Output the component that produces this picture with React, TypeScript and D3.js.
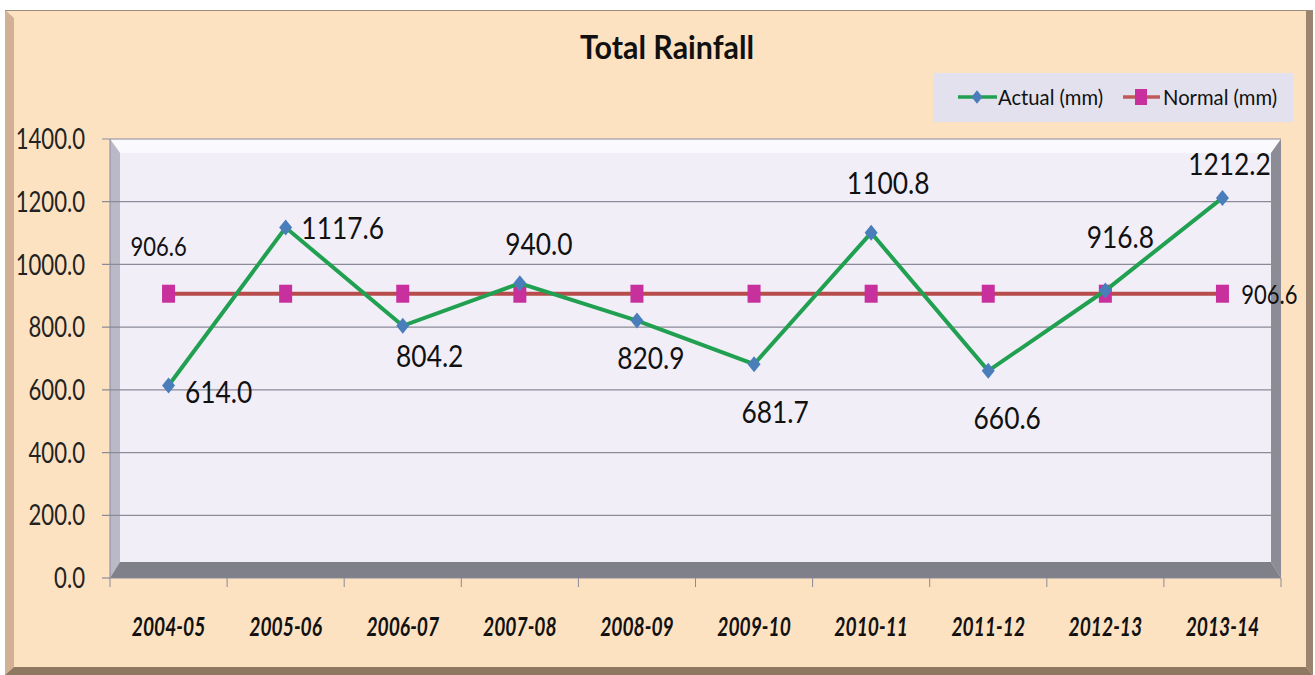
import React from "react";
import * as d3 from "d3";

const categories = ["2004-05", "2005-06", "2006-07", "2007-08", "2008-09", "2009-10", "2010-11", "2011-12", "2012-13", "2013-14"];
const actual = [614.0, 1117.6, 804.2, 940.0, 820.9, 681.7, 1100.8, 660.6, 916.8, 1212.2];
const normal = [906.6, 906.6, 906.6, 906.6, 906.6, 906.6, 906.6, 906.6, 906.6, 906.6];
const yTicks = [0, 200, 400, 600, 800, 1000, 1200, 1400];
const title = "Total Rainfall";
const seriesNames = ["Actual (mm)", "Normal (mm)"];

// label placement offsets (pixels, relative to the point) — layout, not data
const actualLabelOffsets: [number, number][] = [
  [50, 6], [57, 0], [27, 30], [19, -39], [14, 37], [21, 48], [17, -50], [19, 47], [15, -54], [7, -34],
];
const normalLabelIdx = [0, 9];
const normalLabelOffsets: [number, number][] = [[-10, -48], [47, 0]];

const FONT = "Lato, 'Open Sans', 'Noto Sans', sans-serif";

const W = 1315, H = 675;
const L = 110, R = 1281, T = 139, B = 578;
const D = 10, DY = 14;

const GREEN = "#20A050";
const BLUE = "#4A7EBB";
const RED = "#B84B4B";
const MAGENTA = "#C8309E";

type TxtProps = {
  x: number; y: number; sx: number; size: number; anchor?: string; weight?: string; italic?: boolean;
  children: React.ReactNode; fill?: string;
};
function Txt({ x, y, sx, size, anchor = "start", weight = "normal", italic = false, children, fill = "#111" }: TxtProps) {
  return (
    <text transform={`translate(${x},${y}) scale(${sx},1)`} x={0} y={0} dy="0.36em" textAnchor={anchor}
      fontFamily={FONT} fontSize={size} fontWeight={weight} fontStyle={italic ? "italic" : "normal"} fill={fill}>
      {children}
    </text>
  );
}

export default function App() {
  const x = d3.scaleBand<string>().domain(categories).range([L, R]).padding(0);
  const bw = x.bandwidth();
  const cx = (c: string) => (x(c) as number) + bw / 2;
  const y = d3.scaleLinear().domain([0, 1400]).range([B, T]);

  const lineGen = d3.line<number>().x((_, i) => cx(categories[i])).y((v) => y(v));

  const diamond = (px: number, py: number, s = 1) =>
    `M${px},${py - 8 * s} L${px + 6.5 * s},${py} L${px},${py + 8 * s} L${px - 6.5 * s},${py} Z`;

  return (
    <svg width={W} height={H} style={{ position: "absolute", left: 0, top: 0, display: "block" }}>
      {/* outer frame */}
      <rect x={0} y={0} width={W} height={H} fill="#ffffff" />
      <rect x={5} y={10} width={1308} height={665} fill="#FDE2C2" />
      <polygon points="5,10 14,18 14,667 5,675" fill="#D2B094" />
      <polygon points="5,675 14,667 1306,667 1313,675" fill="#8F7862" />
      <polygon points="1306,11 1313,11 1313,675 1306,667" fill="#9A836F" />
      <line x1={5} y1={10.5} x2={1313} y2={10.5} stroke="#9C8C7C" strokeWidth={1.2} />

      {/* title */}
      <Txt x={667} y={47} sx={0.95} size={32} anchor="middle" weight="bold">{title}</Txt>

      {/* legend */}
      <rect x={933} y={73} width={360} height={49} fill="#E3E1EE" />
      <line x1={958} x2={997} y1={97} y2={97} stroke={GREEN} strokeWidth={3.5} />
      <path d={diamond(977, 97, 0.85)} fill={BLUE} />
      <Txt x={998} y={97} sx={0.92} size={22}>{seriesNames[0]}</Txt>
      <line x1={1123} x2={1160} y1={97} y2={97} stroke="#C05A5A" strokeWidth={3.5} />
      <rect x={1135} y={89} width={12} height={16} fill={MAGENTA} />
      <Txt x={1163} y={97} sx={0.92} size={22}>{seriesNames[1]}</Txt>

      {/* walls */}
      <rect x={L + D} y={T + DY - 1} width={R - D - L - D} height={B - DY - T - DY + 1} fill="#F1EEF8" />
      <polygon points={`${L},${T} ${R},${T} ${R - D},${T + DY} ${L + D},${T + DY}`} fill="#FAF9FD" />
      <polygon points={`${L},${T} ${L + D},${T + DY} ${L + D},${B - DY - 2} ${L},${B}`} fill="#B9B9C7" />
      <polygon points={`${L},${B} ${L + D},${B - DY - 2} ${R - D},${B - DY - 2} ${R},${B}`} fill="#80808A" />
      <polygon points={`${R - D},${T + DY} ${R},${T} ${R},${B} ${R - D},${B - DY - 2}`} fill="#8C8C96" />

      {/* gridlines & y ticks */}
      {yTicks.map((t) => (
        <g key={t}>
          {t > 0 && (
            <line x1={L - 8} x2={t === 1400 ? R : R - D} y1={y(t)} y2={y(t)} stroke="#8A8A98" strokeWidth={1.2} />
          )}
          {t === 0 && <line x1={L - 8} x2={L} y1={y(t)} y2={y(t)} stroke="#8A8A98" strokeWidth={1.2} />}
          <Txt x={85} y={y(t)} sx={0.79} size={28} anchor="end" fill="#222">{t.toFixed(1)}</Txt>
        </g>
      ))}
      <line x1={L} x2={L} y1={T} y2={B} stroke="#8A8A98" strokeWidth={1} />
      <line x1={L} x2={R} y1={B} y2={B} stroke="#8A8A98" strokeWidth={1} />

      {/* x ticks & labels */}
      {categories.map((c, i) => (
        <line key={"t" + i} x1={x(c) as number} x2={x(c) as number} y1={B} y2={B + 9} stroke="#8A8A98" strokeWidth={1} />
      ))}
      <line x1={R} x2={R} y1={B} y2={B + 9} stroke="#8A8A98" strokeWidth={1} />
      {categories.map((c) => (
        <Txt key={c} x={cx(c)} y={627} sx={0.74} size={26} anchor="middle" weight="bold" italic>{c}</Txt>
      ))}

      {/* normal series */}
      <path d={lineGen(normal) || ""} fill="none" stroke={RED} strokeWidth={4} />
      {normal.map((v, i) => (
        <rect key={"n" + i} x={cx(categories[i]) - 6.5} y={y(v) - 9} width={13} height={18} fill={MAGENTA} />
      ))}

      {/* actual series */}
      <path d={lineGen(actual) || ""} fill="none" stroke={GREEN} strokeWidth={4} strokeLinejoin="miter" />
      {actual.map((v, i) => (
        <path key={"a" + i} d={diamond(cx(categories[i]), y(v))} fill={BLUE} />
      ))}

      {/* data labels */}
      {actual.map((v, i) => (
        <Txt key={"la" + i} x={cx(categories[i]) + actualLabelOffsets[i][0]} y={y(v) + actualLabelOffsets[i][1]}
          sx={0.85} size={31} anchor="middle">
          {v.toFixed(1)}
        </Txt>
      ))}
      {normalLabelIdx.map((idx, k) => (
        <Txt key={"ln" + k} x={cx(categories[idx]) + normalLabelOffsets[k][0]} y={y(normal[idx]) + normalLabelOffsets[k][1]}
          sx={0.8} size={27.5} anchor="middle">
          {normal[idx].toFixed(1)}
        </Txt>
      ))}
    </svg>
  );
}
